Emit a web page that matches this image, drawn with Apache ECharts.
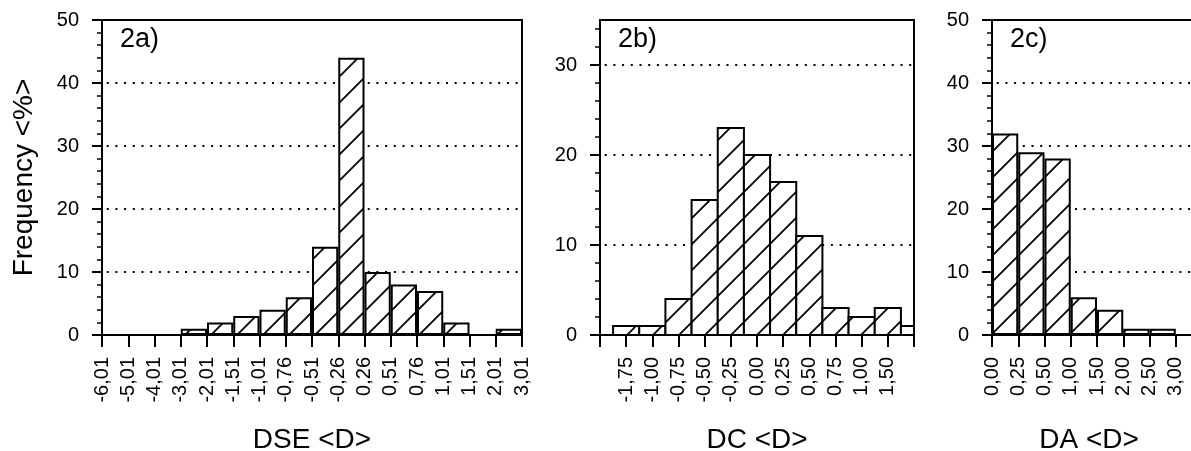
<!DOCTYPE html>
<html>
<head>
<meta charset="utf-8">
<script src="https://cdn.jsdelivr.net/npm/echarts@6/dist/echarts.min.js"></script>
<style>
  html, body { margin: 0; padding: 0; background: #fff; }
  #chart { width: 1191px; height: 451px; }
</style>
</head>
<body>
<div id="chart"></div>
<script>
// bin edges and frequencies (%)
const dseEdges = ["-6,01", "-5,01", "-4,01", "-3,01", "-2,01", "-1,51", "-1,01", "-0,76", "-0,51",
  "-0,26", "0,26", "0,51", "0,76", "1,01", "1,51", "2,01", "3,01"];
const dseFreq = [0, 0, 0, 1, 2, 3, 4, 6, 14, 44, 10, 8, 7, 2, 0, 1];

// panel b: labels sit under bar centres, first and last slot unlabelled
const dcLabels = ["", "-1,75", "-1,00", "-0,75", "-0,50", "-0,25", "0,00", "0,25", "0,50",
  "0,75", "1,00", "1,50", ""];
const dcFreq = [1, 1, 4, 15, 23, 20, 17, 11, 3, 2, 3, 1];

const daEdges = ["0,00", "0,25", "0,50", "1,00", "1,50", "2,00", "2,50", "3,00"];
const daFreq = [32, 29, 28, 6, 4, 1, 1];

const yMajorAC = [0, 10, 20, 30, 40, 50];
const yMajorB = [0, 10, 20, 30];

const FONT = "Liberation Sans";

// hatch fill "/"
function hatch() {
  const s = 26;
  const c = document.createElement("canvas");
  c.width = s; c.height = s;
  const g = c.getContext("2d");
  g.fillStyle = "#fff";
  g.fillRect(0, 0, s, s);
  g.strokeStyle = "#000";
  g.lineWidth = 1.8;
  g.beginPath();
  g.moveTo(-2, s + 2); g.lineTo(s + 2, -2);
  g.moveTo(-2, 2); g.lineTo(2, -2);
  g.moveTo(s - 2, s + 2); g.lineTo(s + 2, s - 2);
  g.stroke();
  return c;
}
const pattern = { image: hatch(), repeat: "repeat" };

const grids = [
  { left: 102, top: 20, width: 420, height: 315 },
  { left: 600, top: 20, width: 314, height: 315 },
  { left: 992, top: 20, width: 210, height: 315 }
].map(g => Object.assign(g, {
  show: true, borderColor: "#000", borderWidth: 2, backgroundColor: "transparent",
  containLabel: false, outerBoundsMode: "none"
}));

const lbl = { color: "#000", fontFamily: FONT, fontSize: 20 };

function xAxis(idx, max, labels, name, namePad) {
  return {
    type: "value", gridIndex: idx, min: 0, max: max, interval: 1,
    name: name, nameLocation: "middle", nameGap: 91,
    nameTextStyle: { color: "#000", fontFamily: FONT, fontSize: 28, padding: namePad || 0 },
    axisLine: { show: true, lineStyle: { color: "#000", width: 2 } },
    axisTick: { show: true, length: 12, lineStyle: { color: "#000", width: 2 } },
    axisLabel: Object.assign({}, lbl, {
      rotate: 90, margin: 22, showMinLabel: true, showMaxLabel: true,
      formatter: v => labels[v] !== undefined ? labels[v] : ""
    }),
    splitLine: { show: false }
  };
}

function yMajor(idx, max, ticks, name) {
  return {
    type: "value", gridIndex: idx, position: "left", min: 0, max: max, interval: 10,
    name: name || "", nameLocation: "middle", nameGap: 64, nameRotate: 90,
    nameTextStyle: { color: "#000", fontFamily: FONT, fontSize: 28 },
    axisLine: { show: true, lineStyle: { color: "#000", width: 2 } },
    axisTick: { show: true, length: 10, customValues: ticks, lineStyle: { color: "#000", width: 2 } },
    axisLabel: Object.assign({}, lbl, { margin: 23, customValues: ticks }),
    splitLine: { show: true, lineStyle: { color: "#000", width: 2, type: [2, 6.7], dashOffset: 4 } }
  };
}

function yMinor(idx, max) {
  const t = [];
  for (let v = 2; v < max; v += 2) t.push(v);
  return {
    type: "value", gridIndex: idx, position: "left", offset: 0, min: 0, max: max, interval: 2,
    axisLine: { show: false },
    axisTick: { show: true, length: 5, customValues: t, lineStyle: { color: "#000", width: 1.5 } },
    axisLabel: { show: false },
    splitLine: { show: false }
  };
}

function bars(idx, yIdx, data) {
  return {
    type: "bar", xAxisIndex: idx, yAxisIndex: yIdx, data: data,
    barWidth: "100%", silent: true,
    itemStyle: { color: pattern, borderColor: "#000", borderWidth: 2 }
  };
}

// panel b: bars centred on the ticks, the last one cut by the frame
function clippedBars(idx, yIdx, data) {
  return {
    type: "custom", xAxisIndex: idx, yAxisIndex: yIdx, data: data, silent: true,
    renderItem: (params, api) => {
      const x = api.value(0);
      const p0 = api.coord([x - 0.5, api.value(1)]);
      const p1 = api.coord([x + 0.5, 0]);
      const cs = params.coordSys;
      const r = echarts.graphic.clipRectByRect(
        { x: p0[0], y: p0[1], width: p1[0] - p0[0], height: p1[1] - p0[1] },
        { x: cs.x, y: cs.y, width: cs.width, height: cs.height }
      );
      if (!r) return null;
      return { type: "rect", shape: r, style: { fill: pattern, stroke: "#000", lineWidth: 2 } };
    }
  };
}

const chart = echarts.init(document.getElementById("chart"), null, { renderer: "canvas" });
const option = {
  animation: false,
  backgroundColor: "#fff",
  title: [
    { text: "2a)", left: 120, top: 26 },
    { text: "2b)", left: 618, top: 26 },
    { text: "2c)", left: 1010, top: 26 }
  ].map(t => Object.assign(t, { padding: 0, textStyle: { color: "#000", fontFamily: FONT, fontSize: 27, fontWeight: "normal" } })),
  grid: grids,
  xAxis: [
    xAxis(0, dseEdges.length - 1, dseEdges, "DSE <D>"),
    xAxis(1, dcLabels.length - 1, dcLabels, "DC <D>"),
    xAxis(2, daEdges.length, daEdges, "DA <D>", [0, 16, 0, 0])
  ],
  yAxis: [
    yMajor(0, 50, yMajorAC, "Frequency <%>"), yMinor(0, 50),
    yMajor(1, 35, yMajorB), yMinor(1, 35),
    yMajor(2, 50, yMajorAC), yMinor(2, 50)
  ],
  series: [
    bars(0, 0, dseFreq.map((v, i) => [i + 0.5, v])),
    clippedBars(1, 2, dcFreq.map((v, i) => [i + 1, v])),
    bars(2, 4, daFreq.map((v, i) => [i + 0.5, v]))
  ]
};
chart.setOption(option);
</script>
</body>
</html>
